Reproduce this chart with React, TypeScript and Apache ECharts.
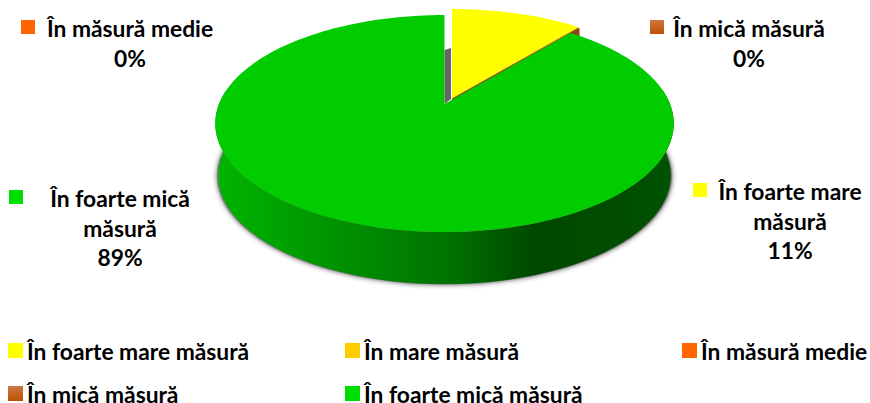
import React, { useEffect, useRef } from "react";
import * as echarts from "echarts";

const categories = ["În foarte mare măsură", "În mare măsură", "În măsură medie", "În mică măsură", "În foarte mică măsură"];
const values = [11, 0, 0, 0, 89];
const topColors = ["#ffff00", "#ffcc00", "#ff6600", "#c85a10", "#00cc00"];
const edgeColors = ["#b8a400", "#c89a00", "#b04a00", "#8a4418", "#004a00"];
const legendColors: any[] = [
  "#ffff00", "#ffcc00", "#ff6600",
  new echarts.graphic.LinearGradient(0, 0, 0, 1, [{ offset: 0, color: "#cc7744" }, { offset: 1, color: "#c05000" }]),
  "#00dd00",
];
const legendLeft = [8, 345, 682, 8, 345];
const legendTop = [339, 339, 339, 382, 382];
const labelLines = [
  ["În foarte mare", "măsură"],
  [],
  ["În măsură medie"],
  ["În mică măsură"],
  ["În foarte mică", "măsură"],
];

const FONT = "Lato, 'Noto Sans', sans-serif";
const FS = 22.8;
const AX = 225.5, BY = 105, K = -0.18, DEPTH = 52;
const CX = 444.5, CY = 104, EX = 452, EY = 98;
const total = values.reduce((a, b) => a + b, 0);
const maxV = Math.max(...values);

function project(deg: number, cx: number, cy: number, sx = 1) {
  const t = (deg * Math.PI) / 180;
  const u = Math.sin(t), v = -Math.cos(t), d = 1 + K * v;
  return [cx + (AX * sx * u) / d, cy + (BY * v) / d];
}
function arc(a0: number, a1: number, cx: number, cy: number, sx = 1) {
  const pts: number[][] = [];
  const n = Math.max(1, Math.ceil(Math.abs(a1 - a0) / 2));
  for (let i = 0; i <= n; i++) pts.push(project(a0 + ((a1 - a0) * i) / n, cx, cy, sx));
  return pts;
}

function makeRender(i: number) {
  return (_p: any, api: any) => {
    const v = api.value(0);
    const before = values.slice(0, i).reduce((a, b) => a + b, 0);
    const a0 = (360 * before) / total, a1 = a0 + (360 * v) / total;
    const big = v === maxV;
    const cx = big ? CX : EX, cy = big ? CY : EY;
    const children: any[] = [];
    if (big) {
      const sweep0 = Math.max(a0, 82), sweep1 = Math.min(a1, 278);
      const rim = arc(sweep0, sweep1, cx, cy);
      const low = arc(sweep1, sweep0, cx, cy + DEPTH, 0.987);
      children.push({
        type: "polygon", z2: 1,
        shape: { points: arc(75, 285, cx, cy + DEPTH + 0.5, 0.992) },
        style: { fill: "#777", shadowBlur: 5, shadowColor: "rgba(50,50,50,0.85)" },
      });
      children.push({
        type: "polygon", z2: 2,
        shape: { points: [[cx, cy - 54], [cx + 6.5, cy - 56], [cx + 6.5, cy - 5], [cx, cy]] },
        style: { fill: "#666" },
      });
      children.push({
        type: "polygon", z2: 10,
        shape: { points: rim.concat(low) },
        style: {
          fill: new echarts.graphic.LinearGradient(0, 0, 1, 0, [
            { offset: 0, color: "#00b400" },
            { offset: 0.5, color: "#007400" },
            { offset: 0.7, color: "#004800" },
            { offset: 1, color: "#005200" },
          ]),
        },
      });
    } else {
      const nudge = i === 0 ? 0 : 1;
      const p = project(a1, cx, cy);
      children.push({
        type: "polygon", z2: 3 + i,
        shape: { points: [[cx, cy + nudge], [p[0] + nudge, p[1] + nudge], [p[0] + nudge, p[1] + DEPTH], [cx, cy + DEPTH]] },
        style: { fill: edgeColors[i] },
      });
    }
    if (v > 0) {
      children.push({
        type: "polygon", z2: big ? 11 : 12,
        shape: { points: [[cx, cy], ...arc(a0, a1, cx, cy)] },
        style: { fill: topColors[i] },
      });
    }
    return { type: "group", children };
  };
}

const labelPos: any = {
  0: { sq: [693, 183], cx: 790, y: 191 },
  2: { sq: [21, 20], cx: 130, y: 28 },
  3: { sq: [650, 20], cx: 749, y: 28 },
  4: { sq: [9, 190], cx: 120, y: 198 },
};
const LINE = 29.7;

function labelGraphics() {
  const out: any[] = [];
  Object.keys(labelPos).forEach((k) => {
    const i = Number(k), pos = labelPos[i];
    out.push({ type: "rect", shape: { x: pos.sq[0], y: pos.sq[1], width: 14, height: 14 }, style: { fill: legendColors[i] } });
    const lines = [...labelLines[i], values[i] + "%"];
    lines.forEach((t: string, j: number) => {
      out.push({
        type: "text", x: pos.cx, y: pos.y + j * LINE,
        style: { text: t, fill: "#000", font: `bold ${FS}px ${FONT}`, align: "center", verticalAlign: "middle" },
      });
    });
  });
  return out;
}

export default function App() {
  const ref = useRef<HTMLDivElement>(null);
  useEffect(() => {
    const chart = echarts.init(ref.current!, undefined, { renderer: "svg" });
    chart.setOption({
      animation: false,
      backgroundColor: "#fff",
      legend: categories.map((name, i) => ({
        left: legendLeft[i], top: legendTop[i], orient: "horizontal", padding: 0,
        itemWidth: 15, itemHeight: 15, selectedMode: false,
        data: [{ name, icon: "rect", itemStyle: { color: legendColors[i] } }],
        textStyle: { fontFamily: FONT, fontWeight: "bold", fontSize: FS, lineHeight: 18, color: "#000", padding: [0, 0, 0, -1] },
      })),
      series: categories.map((name, i) => ({
        type: "custom", name, coordinateSystem: "none", silent: true,
        renderItem: makeRender(i), data: [[values[i]]],
        itemStyle: { color: topColors[i] },
      })),
      graphic: { elements: labelGraphics() },
    });
    return () => chart.dispose();
  }, []);
  return <div ref={ref} style={{ position: "fixed", left: 0, top: 0, width: 870, height: 403 }} />;
}
